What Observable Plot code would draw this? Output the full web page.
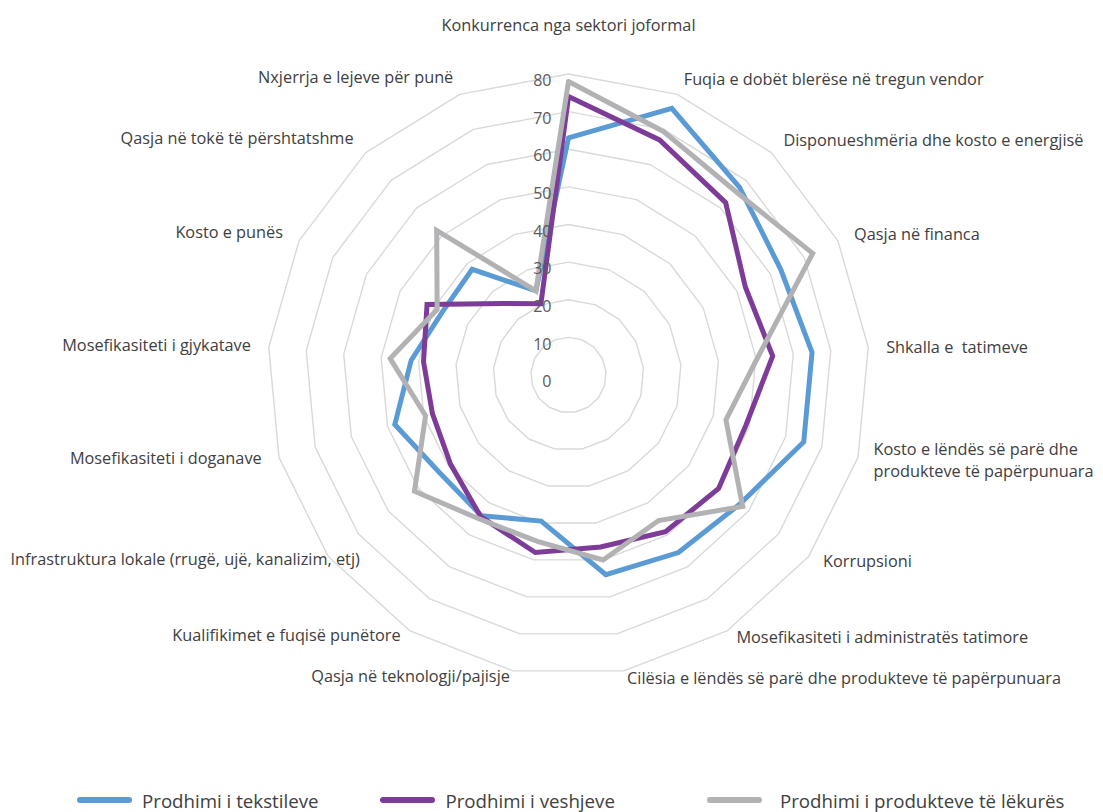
<!DOCTYPE html>
<html>
<head>
<meta charset="utf-8">
<script src="https://cdn.jsdelivr.net/npm/d3@7"></script>
<script src="https://cdn.jsdelivr.net/npm/@observablehq/plot@0.6"></script>
<style>
  html, body { margin: 0; padding: 0; background: #fff; overflow: hidden; }
  body { width: 1103px; height: 812px; font-family: "Open Sans", sans-serif; }
  #legend { display: flex; justify-content: flex-start; align-items: center; height: 36px; margin-top: 12px; padding-left: 77px; box-sizing: border-box; width: 1103px; }
  .item { display: flex; align-items: center; }
  .item + .item { margin-left: 62px; }
  .item.last { margin-left: 92px; }
  .sw { width: 55px; height: 6px; border-radius: 3px; margin-right: 10px; }
  .item.last .sw { margin-right: 18px; }
  .lab { font-size: 18.7px; color: #404040; white-space: nowrap; }
</style>
</head>
<body>
<div id="chart"></div>
<div id="legend"></div>
<script>
// ---- data ----
const axes = [
  "Konkurrenca nga sektori joformal",
  "Fuqia e dobët blerëse në tregun vendor",
  "Disponueshmëria dhe kosto e energjisë",
  "Qasja në financa",
  "Shkalla e  tatimeve",
  "Kosto e lëndës së parë dhe\nprodukteve të papërpunuara",
  "Korrupsioni",
  "Mosefikasiteti i administratës tatimore",
  "Cilësia e lëndës së parë dhe produkteve të papërpunuara",
  "Qasja në teknologji/pajisje",
  "Kualifikimet e fuqisë punëtore",
  "Infrastruktura lokale (rrugë, ujë, kanalizim, etj)",
  "Mosefikasiteti i doganave",
  "Mosefikasiteti i gjykatave",
  "Kosto e punës",
  "Qasja në tokë të përshtatshme",
  "Nxjerrja e lejeve për punë"
];
const seriesNames = ["Prodhimi i tekstileve", "Prodhimi i veshjeve", "Prodhimi i produkteve të lëkurës"];
const textiles = [63, 76, 67.5, 63, 65, 65, 57, 55.5, 54, 39.5, 44, 43, 48, 42, 37.5, 38, 24];
const clothing = [74, 67, 62, 52.5, 54.5, 49, 50, 49, 46.5, 48, 44.3, 39.3, 37.6, 38.7, 42, 25.7, 20.3];
const leather  = [78, 69.5, 66, 72.5, 50.5, 43.5, 58, 45.5, 50, 45, 45, 51.3, 39.5, 47.6, 39, 52, 24];
const ringLevels = [10, 20, 30, 40, 50, 60, 70, 80];
const tickLabels = [0, 10, 20, 30, 40, 50, 60, 70, 80];
const colors = ["#5B9BD5", "#7D3C98", "#B2B2B5"];

// ---- layout ----
const W = 1103, H = 770, CX = 568, CY = 374.5, PX = 301 / 80; // px per unit
const N = axes.length;
const ang = i => (2 * Math.PI * i) / N;
const LABEL_FONT = 16.3;
const font = "Open Sans";

// polar -> cartesian (data units)
const pt = (i, v) => ({ x: v * Math.sin(ang(i)), y: v * Math.cos(ang(i)) });

const rings = ringLevels.flatMap(L =>
  d3.range(N + 1).map(i => ({ level: L, ...pt(i % N, L) })));

const allSeries = [textiles, clothing, leather];
const lines = allSeries.flatMap((vals, s) =>
  d3.range(N + 1).map(i => ({ series: seriesNames[s], ...pt(i % N, vals[i % N]) })));

const ticks = tickLabels.map(v => ({ v, x: 0, y: v }));

// text width measurement for keeping labels inside the frame
const ctx = document.createElement("canvas").getContext("2d");
ctx.font = `${LABEL_FONT}px "${font}"`;
const textW = t => Math.max(...t.split("\n").map(l => ctx.measureText(l).width));

const gap = 18 / PX;
const PAD = 10;
const labels = axes.map((name, i) => {
  const s = Math.sin(ang(i)), c = Math.cos(ang(i));
  const r = 80 + gap;
  let x = r * s;
  let y = r * c;
  if (c < 0) y += (12 / PX) * Math.abs(c);
  const side = s > 0.1 ? "start" : s < -0.1 ? "end" : "middle";
  const w = textW(name);
  const xpx = CX + x * PX;
  if (side === "end" && xpx - w < PAD) x = (PAD + w - CX) / PX;
  if (side === "start" && xpx + w > W - PAD) x = (W - PAD - w - CX) / PX;
  return { name, x, y, side };
});

const chart = Plot.plot({
  width: W, height: H,
  margin: 0,
  x: { domain: [-CX / PX, (W - CX) / PX], axis: null },
  y: { domain: [-(H - CY) / PX, CY / PX], axis: null },
  color: { domain: seriesNames, range: colors },
  style: { fontFamily: font, background: "white" },
  marks: [
    Plot.line(rings, { x: "x", y: "y", z: "level", stroke: "#D9D9D9", strokeWidth: 1.4 }),
    Plot.line(lines, { x: "x", y: "y", z: "series", stroke: "series", strokeWidth: 5, strokeLinejoin: "miter", strokeMiterlimit: 4 }),
    Plot.text(ticks, { x: "x", y: "y", text: d => String(d.v), textAnchor: "end", dx: -17, dy: 7, fontSize: 16, fill: "#595959" }),
    Plot.text(labels.filter(d => d.side === "start"), { x: "x", y: "y", text: "name", textAnchor: "start", fontSize: LABEL_FONT, fill: "#404040", lineHeight: 1.35 }),
    Plot.text(labels.filter(d => d.side === "end"), { x: "x", y: "y", text: "name", textAnchor: "end", fontSize: LABEL_FONT, fill: "#404040" }),
    Plot.text(labels.filter(d => d.side === "middle" && d.y > 0), { x: "x", y: "y", text: "name", textAnchor: "middle", lineAnchor: "bottom", fontSize: LABEL_FONT, fill: "#404040", dy: -25 })
  ]
});
document.getElementById("chart").appendChild(chart);

const legend = document.getElementById("legend");
seriesNames.forEach((n, i) => {
  const it = document.createElement("div");
  it.className = "item" + (i === seriesNames.length - 1 ? " last" : "");
  it.innerHTML = `<div class="sw" style="background:${colors[i]}"></div><span class="lab">${n}</span>`;
  legend.appendChild(it);
});
</script>
</body>
</html>
